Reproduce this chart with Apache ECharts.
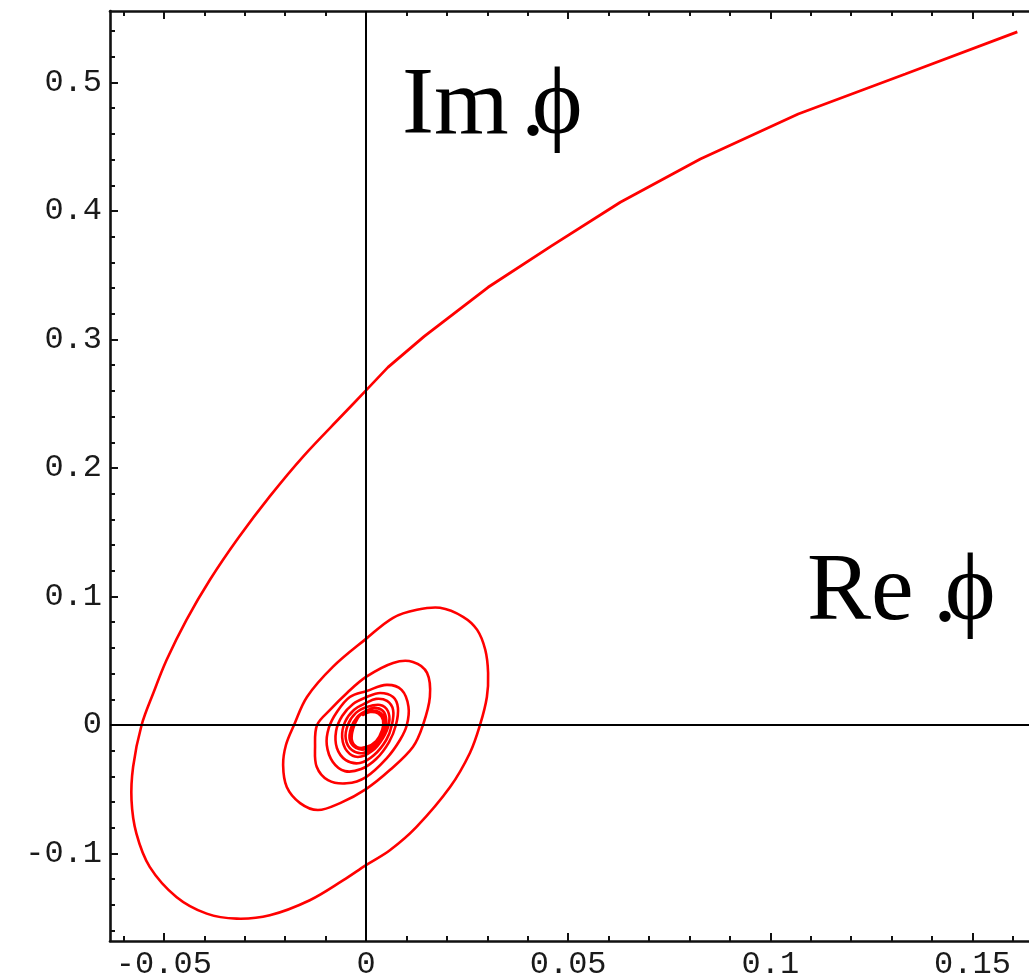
<!DOCTYPE html>
<html><head><meta charset="utf-8">
<script src="https://cdn.jsdelivr.net/npm/echarts@6/dist/echarts.min.js"></script>
<style>html,body{margin:0;padding:0;background:#fff}#c{width:1029px;height:976px}</style>
</head><body><div id="c"></div>
<script>
// ---- tick positions & labels ----
const xMajorTicks = [-0.05, 0, 0.05, 0.1, 0.15];
const xTickLabels = ['-0.05', '0', '0.05', '0.1', '0.15'];
const xMinorTicks = [-0.06, -0.04, -0.03, -0.02, -0.01, 0.01, 0.02, 0.03, 0.04, 0.06, 0.07, 0.08, 0.09, 0.11, 0.12, 0.13, 0.14, 0.16];
const yMajorTicks = [-0.1, 0, 0.1, 0.2, 0.3, 0.4, 0.5];
const yTickLabels = ['-0.1', '0', '0.1', '0.2', '0.3', '0.4', '0.5'];
const yMinorTicks = [-0.16, -0.14, -0.12, -0.08, -0.06, -0.04, -0.02, 0.02, 0.04, 0.06, 0.08, 0.12, 0.14, 0.16, 0.18, 0.22, 0.24, 0.26, 0.28, 0.32, 0.34, 0.36, 0.38, 0.42, 0.44, 0.46, 0.48, 0.52, 0.54];

// ---- curve: outer (coarse, polyline) branch ----
const reOuter = [0.1611, 0.1334, 0.1069, 0.0827, 0.0629, 0.0458, 0.0302, 0.0144, 0.0054];
const imOuter = [0.5394, 0.5066, 0.4754, 0.4404, 0.4068, 0.3726, 0.3406, 0.3024, 0.2783];

// ---- curve: spiral part ----
const reSpiral = [
  0.0054, 0, -0.0057, -0.0155, -0.0238, -0.0316, -0.0386, -0.0444, -0.0493, -0.0526, -0.0555, -0.0576, -0.0580, -0.0568, -0.0535, -0.0469, -0.0394, -0.0320, -0.0238, -0.0139, -0.0056, 0,
  0.0059, 0.0125, 0.0208, 0.0257, 0.0282, 0.0299, 0.0302, 0.0295, 0.0275, 0.0240, 0.0183, 0.0126, 0.0067, 0, -0.0082, -0.0146, -0.0178,
  -0.0198, -0.0205, -0.0196, -0.0163, -0.0119, -0.0064, 0, 0.0059, 0.0116, 0.0141, 0.0158, 0.0151, 0.0116, 0.0067, 0, -0.0047, -0.0089,
  -0.0121, -0.0126, -0.0122, -0.0094, -0.0048, 0, 0.0051, 0.0084, 0.0101, 0.0105, 0.0088, 0.0051, 0.0002,
  -0.0040, -0.0072, -0.0092, -0.0097, -0.0082, -0.0052, -0.0012, 0.0025, 0.0057, 0.0074, 0.0079, 0.0067, 0.0035, 0.0002,
  -0.0032, -0.0059, -0.0074, -0.0072, -0.0050, -0.0015, 0.0020, 0.0050, 0.0064, 0.0067, 0.0052, 0.0025, 0,
  -0.0030, -0.0052, -0.0059, -0.0047, -0.0020, 0.0015, 0.0042, 0.0057, 0.0054, 0.0035, 0.0002,
  -0.0025, -0.0045, -0.0050, -0.0035, -0.0007, 0.0022, 0.0045, 0.0050, 0.0042, 0.0020, 0,
  -0.0022, -0.0037, -0.0040, -0.0025, 0, 0.0027, 0.0042, 0.0045, 0.0032, 0.0010, -0.0010,
  -0.0020, -0.0032, -0.0035, -0.0022, 0, 0.0025, 0.0040, 0.0042, 0.0030, 0.0010, -0.0007];
const imSpiral = [
  0.2783, 0.2603, 0.2416, 0.2091, 0.1779, 0.1455, 0.1130, 0.0818, 0.0507, 0.0249, 0, -0.0325, -0.0585, -0.0844, -0.1104, -0.1338, -0.1468, -0.1507, -0.1481, -0.1364, -0.1208, -0.1091,
  -0.0975, -0.0793, -0.0483, -0.0218, 0, 0.0218, 0.0405, 0.0585, 0.0740, 0.0842, 0.0912, 0.0896, 0.0834, 0.0670, 0.0452, 0.0218, 0,
  -0.0156, -0.0312, -0.0483, -0.0608, -0.0662, -0.0608, -0.0499, -0.0351, -0.0171, 0, 0.0218, 0.0405, 0.0491, 0.0483, 0.0374, 0.0249, 0.0117,
  0, -0.0169, -0.0325, -0.0429, -0.0454, -0.0405, -0.0260, -0.0117, 0, 0.0143, 0.0273, 0.0312, 0.0265,
  0.0218, 0.0101, -0.0023, -0.0156, -0.0288, -0.0359, -0.0343, -0.0265, -0.0133, 0, 0.0133, 0.0218, 0.0249, 0.0218,
  0.0164, 0.0070, -0.0047, -0.0179, -0.0273, -0.0296, -0.0234, -0.0117, 0, 0.0117, 0.0187, 0.0203, 0.0171,
  0.0117, 0.0023, -0.0094, -0.0203, -0.0249, -0.0203, -0.0101, 0.0016, 0.0109, 0.0156, 0.0140,
  0.0094, 0, -0.0109, -0.0195, -0.0218, -0.0164, -0.0062, 0.0039, 0.0109, 0.0133, 0.0109,
  0.0062, -0.0023, -0.0117, -0.0179, -0.0187, -0.0133, -0.0039, 0.0047, 0.0101, 0.0109, 0.0086,
  0.0055, -0.0030, -0.0117, -0.0172, -0.0172, -0.0125, -0.0039, 0.0039, 0.0090, 0.0101, 0.0078];

const X_MIN = -0.06332, X_MAX = 0.16646, Y_MIN = -0.1681, Y_MAX = 0.5556;
const zip = (a, b) => a.slice(0, Math.min(a.length, b.length)).map((v, i) => [v, b[i]]);
const pick = (ticks, labels) => v => {
  for (let i = 0; i < ticks.length; i++) if (Math.abs(ticks[i] - v) < 1e-9) return labels[i];
  return '';
};
const LABEL_FONT = { fontFamily: 'Liberation Mono', fontSize: 32, color: '#1a1a1a' };

function axis(dim, pos, ticks, len, line, labels) {
  const a = {
    type: 'value', position: pos,
    min: dim === 'x' ? X_MIN : Y_MIN, max: dim === 'x' ? X_MAX : Y_MAX,
    splitLine: { show: false },
    axisLine: { show: line, onZero: false, lineStyle: { color: '#111', width: 2.6 } },
    axisTick: { show: true, inside: true, length: len, customValues: ticks, lineStyle: { color: '#111', width: 2 } },
    axisLabel: { show: false }
  };
  if (labels) {
    a.axisLabel = Object.assign({ show: true, customValues: ticks, margin: 8, formatter: labels }, LABEL_FONT);
  }
  return a;
}

const spiralData = zip(reSpiral, imSpiral);

const chart = echarts.init(document.getElementById('c'), null, { renderer: 'canvas' });
chart.setOption({
  animation: false,
  backgroundColor: '#ffffff',
  grid: { left: 110, top: 11, width: 929, height: 930, containLabel: false, outerBoundsMode: 'none' },
  xAxis: [
    axis('x', 'bottom', xMajorTicks, 8, true, pick(xMajorTicks, xTickLabels)),
    axis('x', 'bottom', xMinorTicks, 5, false, null),
    axis('x', 'top', xMajorTicks, 8, true, null),
    axis('x', 'top', xMinorTicks, 5, false, null)
  ],
  yAxis: [
    axis('y', 'left', yMajorTicks, 8, true, pick(yMajorTicks, yTickLabels)),
    axis('y', 'left', yMinorTicks, 5, false, null)
  ],
  series: [
    {
      type: 'line', data: [], z: 1, silent: true,
      markLine: {
        silent: true, symbol: ['none', 'none'], label: { show: false }, animation: false,
        lineStyle: { color: '#000', width: 2, type: 'solid' },
        emphasis: { disabled: true },
        data: [{ xAxis: 0 }, { yAxis: 0 }]
      }
    },
    {
      type: 'line', data: zip(reOuter, imOuter), showSymbol: false, smooth: false, z: 3, silent: true,
      lineStyle: { color: '#ff0000', width: 2.8 }
    },
    {
      type: 'custom', data: spiralData, z: 3, silent: true,
      encode: { x: 0, y: 1 },
      renderItem: function (params, api) {
        if (params.dataIndex !== 0) return null;
        const pts = spiralData.map(p => api.coord(p));
        return {
          type: 'polyline', silent: true,
          shape: { points: pts, smooth: 0.35 },
          style: { stroke: '#ff0000', lineWidth: 2.6, fill: null, lineJoin: 'round', lineCap: 'round' }
        };
      }
    }
  ],
  graphic: [
    { type: 'text', left: 402, top: 60, z: 10, style: { text: 'Im', font: '96px "Liberation Serif"', fill: '#000' } },
    { type: 'text', left: 521, top: 62, z: 10, style: { text: '.', font: '96px "Liberation Serif"', fill: '#000' } },
    { type: 'text', left: 532, top: 60, z: 10, style: { text: 'ϕ', font: '96px "Liberation Serif"', fill: '#000' } },
    { type: 'text', left: 807, top: 546, z: 10, style: { text: 'Re', font: '96px "Liberation Serif"', fill: '#000' } },
    { type: 'text', left: 933, top: 548, z: 10, style: { text: '.', font: '96px "Liberation Serif"', fill: '#000' } },
    { type: 'text', left: 945, top: 546, z: 10, style: { text: 'ϕ', font: '96px "Liberation Serif"', fill: '#000' } }
  ]
});
</script>
</body></html>
